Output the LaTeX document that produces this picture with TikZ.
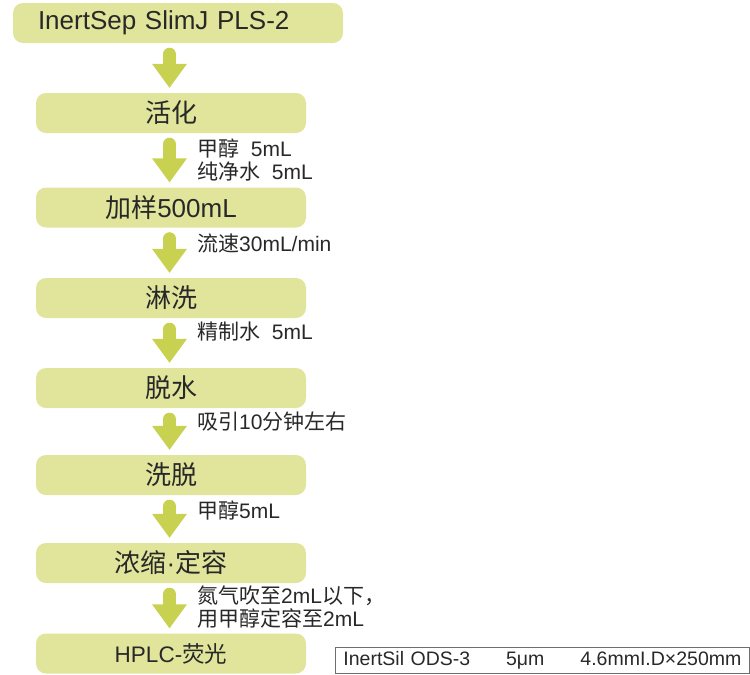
\documentclass[tikz,border=0pt]{standalone}
\usepackage{fontspec}
\setmainfont{Liberation Sans}
\newfontfamily\cjk{Noto Sans CJK SC}
\usetikzlibrary{arrows.meta}
\definecolor{box_fill}{RGB}{224, 229, 155}
\definecolor{arrow_fill}{RGB}{200, 209, 80}
\definecolor{text_gray}{RGB}{40, 40, 40}
\definecolor{frame_gray}{RGB}{110, 110, 110}

\begin{document}
\begin{tikzpicture}[x=1pt, y=-1pt,
  stepbox/.style={fill=box_fill, rounded corners=10pt, minimum width=270pt,
    minimum height=40pt, inner sep=0pt, text=text_gray,
    font=\fontsize{26}{26}\selectfont},
  flow/.style={arrow_fill, line width=13pt, line cap=round,
    -{Triangle[width=35pt, length=24pt, line width=0pt]}},
  note/.style={anchor=west, align=left, inner sep=0pt, text=text_gray,
    font=\fontsize{21}{23.5}\selectfont}]
\useasboundingbox (0,0) rectangle (750,675);

\node[stepbox, inner xsep=25pt, text width=280pt, align=left] (spe) at (178,23)
  {InertSep SlimJ PLS-2};
\node[stepbox] (act) at (171,113) {{\cjk 活化}};
\node[stepbox] (load) at (171,207.5) {{\cjk 加样}500mL};
\node[stepbox] (wash) at (171,298) {{\cjk 淋洗}};
\node[stepbox] (dry) at (171,388) {{\cjk 脱水}};
\node[stepbox] (elute) at (171,475) {{\cjk 洗脱}};
\node[stepbox] (conc) at (171,563) {{\cjk 浓缩}·{\cjk 定容}};
\node[stepbox, font=\fontsize{22.5}{22.5}\selectfont] (hplc) at (171,653.5)
  {HPLC-{\cjk 荧光}};

\foreach \a/\b in {spe/act, act/load, load/wash, wash/dry, dry/elute,
    elute/conc, conc/hplc}
  \draw[flow] (\a.south -| \b.north) ++(-1.5pt,-11pt)
    -- ([xshift=-1.5pt, yshift=5pt]\b.north);

\node[note] (cond) at (197,160) {{\cjk 甲醇}\ \ 5mL\\{\cjk 纯净水}\ \ 5mL};
\node[note] (rate) at (197,243) {{\cjk 流速}30mL/min};
\node[note] (rinse) at (197,332) {{\cjk 精制水}\ \ 5mL};
\node[note] (suck) at (197,422) {{\cjk 吸引}10{\cjk 分钟左右}};
\node[note] (eluent) at (197,510) {{\cjk 甲醇}5mL};
\node[note] (blow) at (197,607)
  {{\cjk 氮气吹至}2mL{\cjk 以下，}\\{\cjk 用甲醇定容至}2mL};

\node[draw=frame_gray, line width=0.8pt, anchor=north west, minimum height=26pt,
  text width=398pt, inner xsep=8pt, inner ysep=0pt, align=left, text=text_gray,
  font=\fontsize{19.5}{19.5}\selectfont] (column) at (335,647)
  {InertSil ODS-3\hfill 5μm\hfill 4.6mmI.D×250mm};
\end{tikzpicture}
\end{document}
